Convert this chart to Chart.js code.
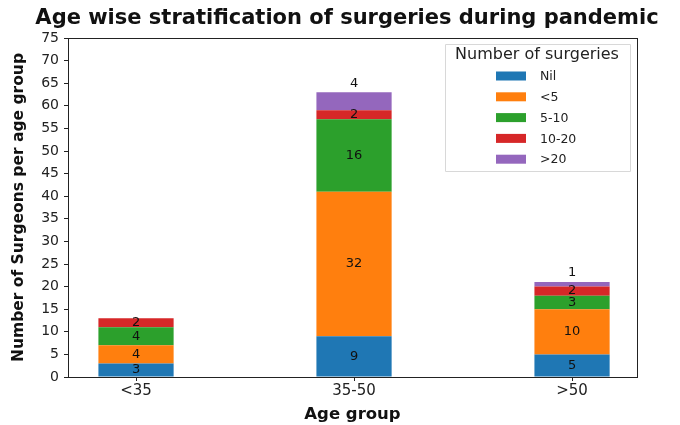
<!DOCTYPE html>
<html>
<head>
<meta charset="utf-8">
<script src="https://cdn.jsdelivr.net/npm/chart.js@4.4.0/dist/chart.umd.min.js"></script>
<style>
  html, body { margin: 0; padding: 0; background: #fff; }
  #wrap { width: 680px; height: 425px; }
</style>
</head>
<body>
<div id="wrap"><canvas id="surgChart"></canvas></div>
<script>
// categorias y valores
const ageGroups = ['<35', '35-50', '>50'];
const nilVals = [3, 9, 5];
const lt5Vals = [4, 32, 10];
const v5to10 = [4, 16, 3];
const v10to20 = [2, 2, 2];
const gt20Vals = [0, 4, 1];
const seriesNames = ['Nil', '<5', '5-10', '10-20', '>20'];
const seriesColors = ['#1f77b4', '#ff7f0e', '#2ca02c', '#d62728', '#9467bd'];
const yTicks = [0, 5, 10, 15, 20, 25, 30, 35, 40, 45, 50, 55, 60, 65, 70, 75];

Chart.defaults.font.family = 'DejaVu Sans';
Chart.defaults.color = '#222';

const allSeries = [nilVals, lt5Vals, v5to10, v10to20, gt20Vals];
const datasets = allSeries.map((vals, k) => ({
    label: seriesNames[k],
    data: vals.map((v, i) => ({ x: i, y: v })),
    backgroundColor: seriesColors[k],
    borderWidth: 0,
    categoryPercentage: 1,
    barPercentage: 0.345
}));

// texto de valores dentro de cada segmento
const valueLabels = {
    id: 'valueLabels',
    afterDatasetsDraw(chart) {
        const ctx = chart.ctx;
        const yScale = chart.scales.y;
        const last = chart.data.datasets.length - 1;
        ctx.save();
        ctx.font = '13px DejaVu Sans';
        ctx.fillStyle = '#111';
        ctx.textAlign = 'center';
        ctx.textBaseline = 'middle';
        chart.data.datasets.forEach((ds, k) => {
            const meta = chart.getDatasetMeta(k);
            meta.data.forEach((el, i) => {
                const v = ds.data[i].y;
                if (!v) return;
                let y = (el.y + el.base) / 2;
                // la ultima etiqueta queda un poco por encima de la barra
                if (k === last) y = yScale.getPixelForValue(yScale.getValueForPixel(el.y) + 2);
                ctx.fillText(String(v), el.x, y);
            });
        });
        ctx.restore();
    }
};

// marco, titulo y leyenda estilo matplotlib
const frameAndLegend = {
    id: 'frameAndLegend',
    afterDraw(chart) {
        const ctx = chart.ctx;
        const a = chart.chartArea;
        ctx.save();
        ctx.strokeStyle = '#222';
        ctx.lineWidth = 1;
        ctx.strokeRect(a.left + 0.5, a.top + 0.5, a.right - a.left, a.bottom - a.top);

        ctx.fillStyle = '#111';
        ctx.font = 'bold 21px DejaVu Sans';
        ctx.textAlign = 'center';
        ctx.textBaseline = 'middle';
        ctx.fillText('Age wise stratification of surgeries during pandemic', 347, 19);

        // leyenda
        const bx = 445, by = 44, bw = 185, bh = 127;
        ctx.fillStyle = 'rgba(255,255,255,0.8)';
        ctx.strokeStyle = '#d8d8d8';
        ctx.beginPath();
        ctx.rect(bx + 0.5, by + 0.5, bw, bh);
        ctx.fill();
        ctx.stroke();
        ctx.fillStyle = '#222';
        ctx.font = '16px DejaVu Sans';
        ctx.fillText('Number of surgeries', bx + bw / 2 - 0.5, by + 11);
        ctx.font = '12.5px DejaVu Sans';
        ctx.textAlign = 'left';
        seriesNames.forEach((name, k) => {
            const yy = 76 + k * 20.8;
            ctx.fillStyle = seriesColors[k];
            ctx.fillRect(496, yy - 4.5, 30, 9);
            ctx.fillStyle = '#222';
            ctx.fillText(name, 540, yy + 1);
        });
        ctx.restore();
    }
};

new Chart(document.getElementById('surgChart'), {
    type: 'bar',
    data: { datasets },
    options: {
        responsive: true,
        maintainAspectRatio: false,
        animation: false,
        layout: { padding: { top: 38, right: 43, left: 0, bottom: 0 } },
        plugins: {
            legend: { display: false },
            tooltip: { enabled: false }
        },
        scales: {
            x: {
                type: 'linear',
                stacked: true,
                offset: false,
                min: -0.312,
                max: 2.298,
                afterBuildTicks: (scale) => {
                    scale.ticks = ageGroups.map((c, i) => ({ value: i }));
                },
                afterFit: (scale) => { scale.height = 48; },
                ticks: {
                    callback: (v) => ageGroups[v],
                    font: { size: 15 },
                    color: '#222',
                    padding: 1
                },
                grid: { offset: false, drawOnChartArea: false, tickLength: 4, color: '#222' },
                border: { color: '#222' },
                title: {
                    display: true,
                    text: 'Age group',
                    font: { size: 16.5, weight: 'bold' },
                    color: '#111',
                    padding: { top: 0, bottom: 0 }
                }
            },
            y: {
                stacked: true,
                min: 0,
                max: 75,
                afterBuildTicks: (scale) => {
                    scale.ticks = yTicks.map(v => ({ value: v }));
                },
                afterFit: (scale) => { scale.width = 68; },
                ticks: {
                    font: { size: 14 },
                    color: '#222',
                    padding: 5
                },
                grid: { drawOnChartArea: false, tickLength: 4, color: '#222' },
                border: { color: '#222' },
                title: {
                    display: true,
                    text: 'Number of Surgeons per age group',
                    font: { size: 15.5, weight: 'bold' },
                    color: '#111',
                    padding: { top: 10, bottom: 0 }
                }
            }
        }
    },
    plugins: [valueLabels, frameAndLegend]
});
</script>
</body>
</html>
